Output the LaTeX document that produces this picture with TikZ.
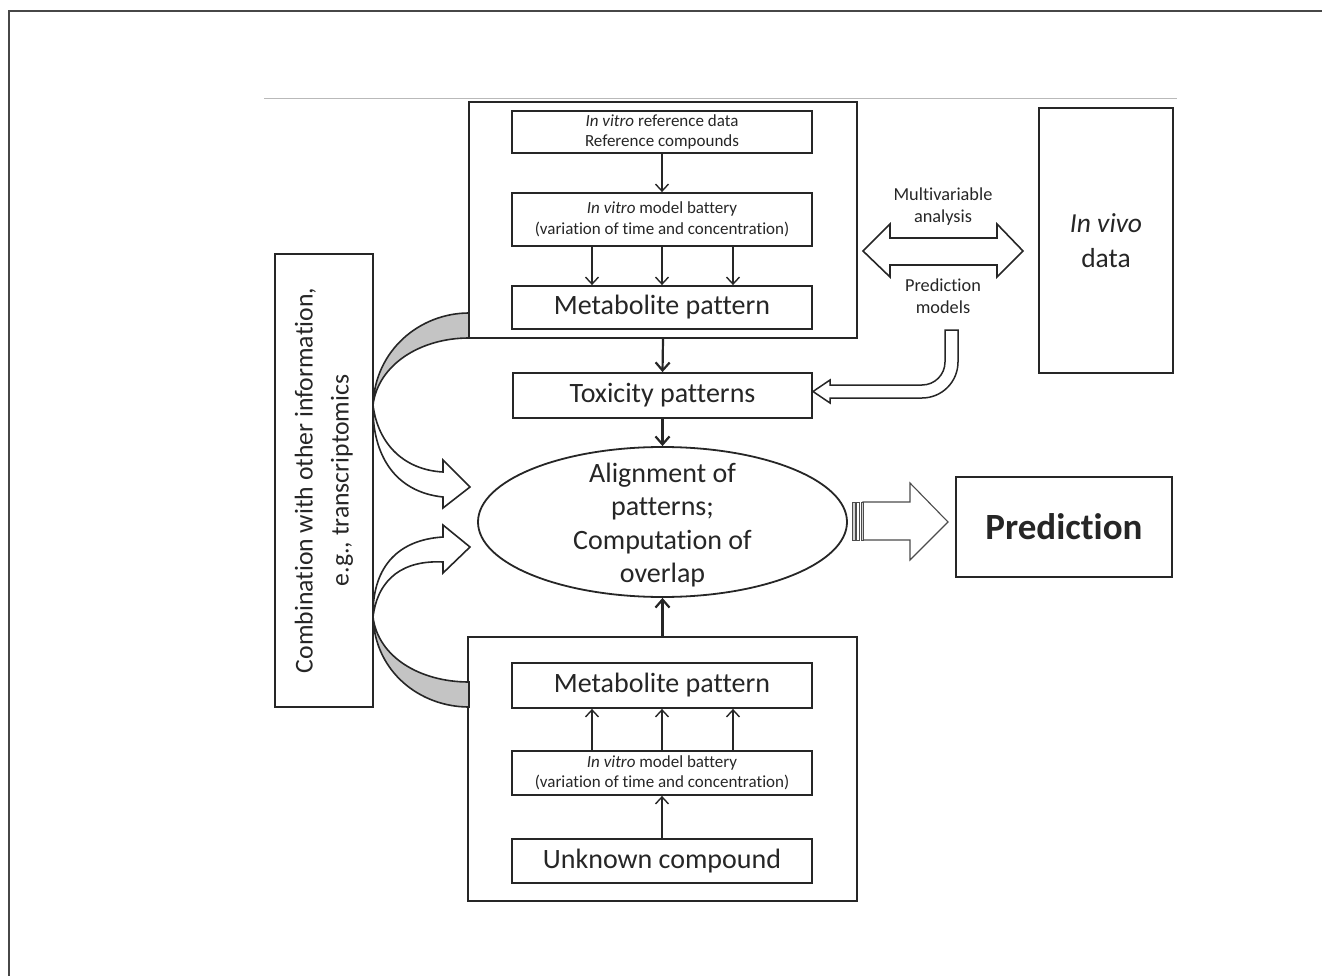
\documentclass[tikz,border=0pt]{standalone}
\usepackage{fontspec}
\setmainfont{Carlito}[Ligatures=NoCommon]
\usetikzlibrary{shapes.geometric,arrows.meta}
\definecolor{ink}{HTML}{262626}
\definecolor{band}{HTML}{C4C4C4}
\begin{document}
\begin{tikzpicture}[x=1pt,y=-1pt,
  box/.style={draw=ink, line width=1.8pt, fill=white, inner sep=0pt, align=center, text=ink},
  outer/.style={draw=ink, line width=2pt, inner sep=0pt},
  small/.style={font=\fontsize{17}{20.5}\selectfont},
  large/.style={font=\fontsize{28}{35}\selectfont},
  arr/.style={draw=ink, line width=1.4pt, -{Straight Barb[length=7pt,width=13pt,line width=1.4pt]}},
  thickarr/.style={draw=ink, line width=2.2pt, -{Straight Barb[length=8pt,width=14pt,line width=2.2pt]}},
  hollow/.style={draw=ink, line width=1.6pt, fill=white, line join=miter},
  crescent/.style={draw=ink, line width=1.6pt, fill=band}]
\useasboundingbox (0,0) rectangle (1322,976);
% page frame and rule
\draw[ink!85, line width=2pt] (9,976) -- (9,11) -- (1322,11);
\draw[gray!55, line width=1pt] (264,99) -- (1177,99);

% outer boxes
\node[outer, minimum width=388pt, minimum height=236pt] (outerTop) at (663,220) {};
\node[outer, minimum width=389pt, minimum height=264pt] (outerBot) at (662.5,769) {};

% top group
\node[box, small, minimum width=300pt, minimum height=42pt] (ref) at (662,132) {\textit{In vitro} reference data\\Reference compounds};
\node[box, small, minimum width=300pt, minimum height=53pt] (bat1) at (662,219.5) {\textit{In vitro} model battery\\(variation of time and concentration)};
\node[box, large, minimum width=300pt, minimum height=43pt] (met1) at (662,307.5) {Metabolite pattern};

\node[box, large, minimum width=299pt, minimum height=45pt] (tox) at (662.5,395.5) {Toxicity patterns};
\node[box, ellipse, minimum width=369pt, minimum height=150pt] (align) at (662.5,522) {};
\node[text=ink, align=center, inner sep=0pt, font=\fontsize{28}{33.5}\selectfont] (alignText) at ([yshift=-3pt]align.center) {Alignment of\\patterns;\\Computation of\\overlap};

% bottom group
\node[box, large, minimum width=300pt, minimum height=45pt] (met2) at (662,685.5) {Metabolite pattern};
\node[box, small, minimum width=300pt, minimum height=44pt] (bat2) at (662,773) {\textit{In vitro} model battery\\(variation of time and concentration)};
\node[box, large, minimum width=300pt, minimum height=44pt] (unk) at (662,861) {Unknown compound};

% side boxes
\node[box, rotate=90, minimum width=453pt, minimum height=98pt, font=\fontsize{25.7}{36}\selectfont] (combo) at (324,480.5) {Combination with other information,\\e.g., transcriptomics};
\node[box, minimum width=134pt, minimum height=265pt, font=\fontsize{27.5}{35}\selectfont] (invivo) at (1106,240.5) {\textit{In vivo}\\data};
\node[box, minimum width=216pt, minimum height=100pt, font=\fontsize{37}{42}\selectfont\bfseries] (pred) at (1064,527) {Prediction};

% labels
\node[text=ink, align=center, font=\fontsize{18.3}{22}\selectfont] (multi) at (943,207) {Multivariable\\analysis};
\node[text=ink, align=center, font=\fontsize{18.3}{22}\selectfont] (predmod) at (943,296) {Prediction\\models};

% arrows inside groups
\draw[arr] (ref.south) -- (bat1.north);
\foreach \s in {-70,0,71} {
  \draw[arr] ([xshift=\s pt]bat1.south) -- ([xshift=\s pt]met1.north);
  \draw[arr] ([xshift=\s pt]bat2.north) -- ([xshift=\s pt]met2.south);
}
\draw[arr] (unk.north) -- (bat2.south);
\draw[thickarr] (outerTop.south) -- (tox.north);
\draw[thickarr] (tox.south) -- (align.north);
\draw[thickarr] (outerBot.north) -- (align.south);

% curved ribbon arrows (top)
\draw[crescent] (469,313) .. controls (420,313) and (375,350) .. (373,405)
  .. controls (378,365) and (420,338) .. (469,338) -- cycle;
\draw[hollow] (373,405) .. controls (378,445) and (405,470) .. (443,472)
  -- (443,460) -- (470,487) -- (443,508) -- (443,497)
  .. controls (395,492) and (372,455) .. (373,405) -- cycle;
% curved ribbon arrows (bottom)
\draw[crescent] (469,707) .. controls (420,707) and (375,672) .. (373,617)
  .. controls (378,657) and (420,682) .. (469,682) -- cycle;
\draw[hollow] (373,617) .. controls (378,577) and (405,560) .. (443,562)
  -- (443,573) -- (470,547) -- (443,525) -- (443,537)
  .. controls (395,540) and (372,570) .. (373,617) -- cycle;

% double arrow
\draw[hollow] (863,251) -- (890,224) -- (890,238) -- (997,238) -- (997,224) -- (1023,251)
  -- (997,277) -- (997,265) -- (890,265) -- (890,277) -- cycle;

% bent arrow to toxicity
\draw[hollow, line width=1.5pt] (945,330) -- (958,330) -- (958,362) arc[start angle=0, end angle=-90, radius=36pt]
  -- (830,398) -- (830,403) -- (813,391.5) -- (830,380) -- (830,385) -- (922,385)
  arc[start angle=-90, end angle=0, radius=23pt] -- cycle;

% prediction arrow
\draw[gray!60!black, line width=1.1pt, fill=white] (863,502) -- (910,502) -- (910,483) -- (948,522)
  -- (910,560) -- (910,540) -- (863,540) -- cycle;
\draw[gray!60!black, line width=0.9pt, fill=gray!35] (852,502) rectangle (855,540);
\draw[gray!60!black, line width=0.9pt, fill=white] (856.5,502) rectangle (859.5,540);
\draw[gray!60!black, line width=0.9pt, fill=gray!35] (861,502) rectangle (863,540);
\end{tikzpicture}
\end{document}
